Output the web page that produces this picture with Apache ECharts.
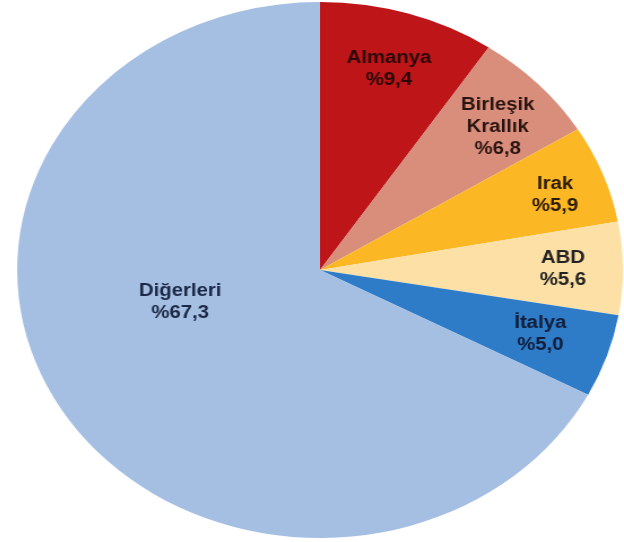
<!DOCTYPE html>
<html>
<head>
<meta charset="utf-8">
<script src="https://cdn.jsdelivr.net/npm/echarts@6/dist/echarts.min.js"></script>
<style>
  html, body { margin: 0; padding: 0; background: #fff; }
  body { width: 624px; height: 542px; overflow: hidden; position: relative; }
  /* the source pie is an ellipse, so the round pie is stretched sideways */
  #chart {
    position: absolute; left: 50px; top: 0;
    width: 540px; height: 542px;
    transform: scaleX(1.13); transform-origin: 270px 270px;
  }
</style>
</head>
<body>
<div id="chart"></div>
<script>
// ---- DATA ----
const countries = ['Almanya', 'Birleşik\nKrallık', 'Irak', 'ABD', 'İtalya', 'Diğerleri'];
const shares = [9.4, 6.8, 5.9, 5.6, 5.0, 67.3];
const colors = ['#be1519', '#d98e7c', '#fbb824', '#fde0a6', '#2e7bc8', '#a5bfe3'];
const textColors = ['#2a0808', '#2a1410', '#2a1a05', '#222222', '#101e3a', '#1c2845'];

// small nudges so labels sit where the original put them
const labelNudge = [[0, 0], [6, 3], [12, 0], [5, 0], [-4, -3], [56, -77]];

const chart = echarts.init(document.getElementById('chart'), null, { renderer: 'canvas' });

const slices = countries.map((n, i) => ({
  name: n,
  value: shares[i],
  itemStyle: { color: colors[i] },
  label: { color: textColors[i] }
}));

chart.setOption({
  backgroundColor: '#fff',
  animation: false,
  series: [
    {
      type: 'pie',
      center: [270, 270],
      radius: [0, 268],
      startAngle: 90,
      silent: true,
      label: { show: false },
      labelLine: { show: false },
      data: slices
    },
    {
      // transparent ring, only used to place the labels further out
      type: 'pie',
      center: [270, 270],
      radius: [146, 268],
      startAngle: 90,
      silent: true,
      itemStyle: { color: 'rgba(0,0,0,0)' },
      label: {
        show: true,
        position: 'inside',
        fontFamily: 'Liberation Sans, Arial, sans-serif',
        fontWeight: 'bold',
        fontSize: 18,
        lineHeight: 22,
        align: 'center',
        formatter: p => p.name + '\n%' + p.value.toFixed(1).replace('.', ',')
      },
      labelLayout: p => ({ dx: labelNudge[p.dataIndex][0], dy: labelNudge[p.dataIndex][1] }),
      labelLine: { show: false },
      data: slices.map(s => ({ name: s.name, value: s.value, label: s.label }))
    }
  ]
});
</script>
</body>
</html>
